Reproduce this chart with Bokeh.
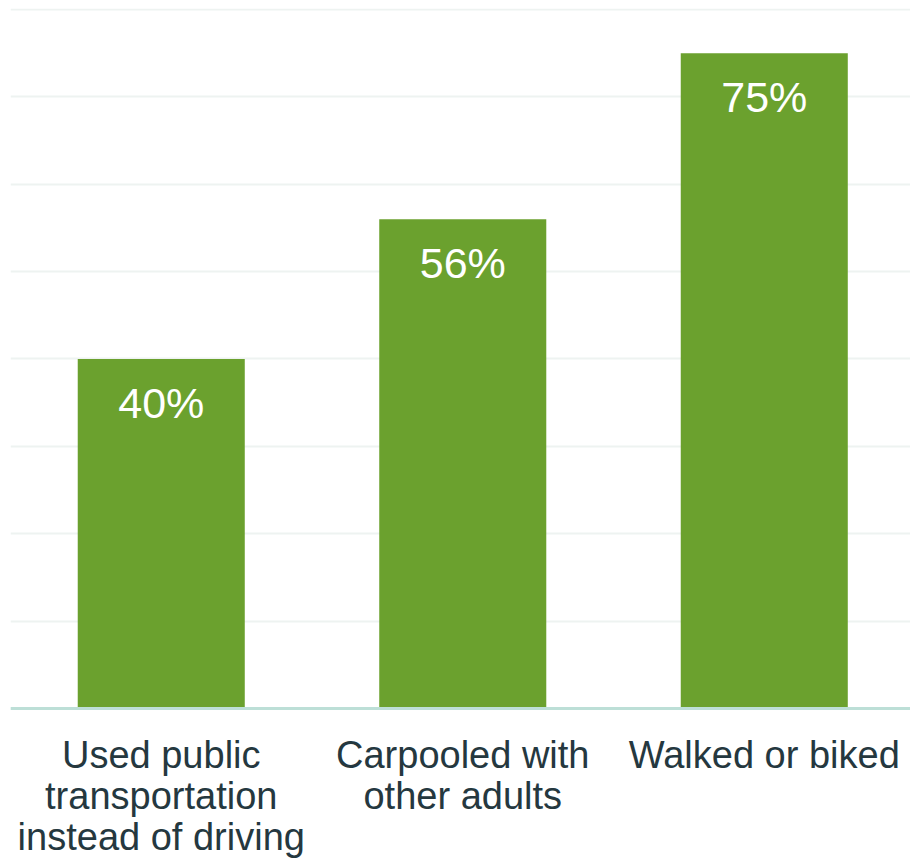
from bokeh.plotting import figure
from bokeh.models import ColumnDataSource, FixedTicker, Range1d, Span
from bokeh.core.properties import value
from bokeh.embed import file_html
from bokeh.resources import INLINE

categories = ["Used public\ntransportation\ninstead of driving",
              "Carpooled with\nother adults",
              "Walked or biked"]
values = [40, 56, 75]
value_labels = ["40%", "56%", "75%"]
y_ticks = [0, 10, 20, 30, 40, 50, 60, 70, 80]

positions = [i + 0.5 for i in range(len(categories))]
zeros = [0] * len(categories)

source = ColumnDataSource(dict(x=positions, top=values, label=value_labels,
                               cat=categories, base=zeros))

p = figure(width=910, height=858, output_backend="svg", toolbar_location=None,
           x_range=Range1d(0, 2.985), y_range=Range1d(-17.167, 80.114),
           min_border_left=10, min_border_right=0, min_border_top=8, min_border_bottom=0)
p.outline_line_color = None
p.background_fill_color = "white"
p.border_fill_color = "white"
p.xaxis.visible = False
p.yaxis.visible = False

p.ygrid.ticker = FixedTicker(ticks=y_ticks)
p.ygrid.grid_line_color = "#eef3f1"
p.ygrid.grid_line_width = 2
p.xgrid.grid_line_color = None

p.vbar(x="x", top="top", bottom="base", width=0.554, source=source,
       fill_color="#6ba12e", line_color=None)

baseline = Span(location=0, dimension="width", line_color="#bddfd7", line_width=3)
p.add_layout(baseline)

p.text(x="x", y="top", text="label", source=source,
       text_color="white", text_font=value("Liberation Sans"), text_font_size="43px",
       text_align="center", text_baseline="middle", y_offset=44)

p.text(x="x", y="base", text="cat", source=source,
       text_color="#25383f", text_font=value("Liberation Sans"), text_font_size="38px",
       text_align="center", text_baseline="top", text_line_height=0.98, y_offset=25)

open("out.html", "w").write(file_html(p, INLINE))
